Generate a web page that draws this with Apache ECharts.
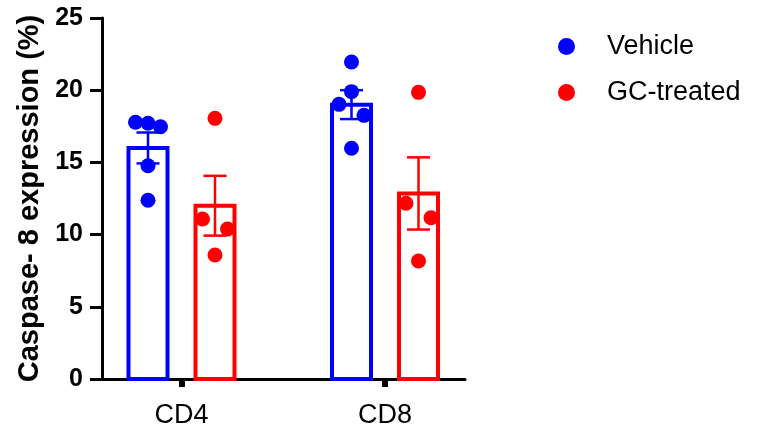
<!DOCTYPE html>
<html>
<head>
<meta charset="utf-8">
<script src="https://cdn.jsdelivr.net/npm/echarts@6/dist/echarts.min.js"></script>
<style>
html,body{margin:0;padding:0;background:#fff;}
#chart{width:760px;height:434px;}
</style>
</head>
<body>
<div id="chart"></div>
<script>
// ---- data ----
var categories = ['CD4', 'CD8'];
var groups = ['Vehicle', 'GC-treated'];
var vehicleMean = [16.0, 19.0];
var vehicleSem = [1.07, 1.0];
var gcMean = [12.0, 12.85];
var gcSem = [2.07, 2.5];
var vehiclePoints = [
  [17.78, 17.71, 17.47, 14.77, 12.38],
  [21.95, 19.9, 19.02, 18.26, 15.98]
];
var gcPoints = [
  [18.05, 11.08, 10.39, 8.59],
  [19.85, 12.17, 11.17, 8.17]
];
// horizontal jitter direction for each point (-1 left, 0 centre, 1 right)
var vehicleJitter = [
  [-1, 0, 1, 0, 0],
  [0, 0, -1, 1, 0]
];
var gcJitter = [
  [0, -1, 1, 0],
  [0, -1, 1, 0]
];
var yTicks = [0, 5, 10, 15, 20, 25];

// ---- layout helpers ----
var pxPerUnit = 203.5;
var groupOffset = 33.5 / pxPerUnit;
var jitterStep = 12.5 / pxPerUnit;
var BLUE = '#0000ff', RED = '#ff0000';
var FONT = 'Liberation Sans, Arial, sans-serif';

function barData(means, sems, side) {
  return means.map(function (m, i) {
    return [i + 1 + side * groupOffset, m, sems[i]];
  });
}
function pointData(points, jit, side) {
  var out = [];
  points.forEach(function (arr, i) {
    arr.forEach(function (v, j) {
      out.push([i + 1 + side * groupOffset + jit[i][j] * jitterStep, v]);
    });
  });
  return out;
}

function barRender(color) {
  return function (params, api) {
    var x = api.value(0), y = api.value(1);
    var top = api.coord([x, y]);
    var bot = api.coord([x, 0]);
    var w = 39;
    return {
      type: 'rect',
      shape: { x: top[0] - w / 2, y: top[1], width: w, height: bot[1] - top[1] },
      style: { fill: 'none', stroke: color, lineWidth: 4 }
    };
  };
}
function errRender(color) {
  return function (params, api) {
    var x = api.value(0), y = api.value(1), e = api.value(2);
    var hi = api.coord([x, y + e]);
    var lo = api.coord([x, y - e]);
    var cw = 11.5;
    return {
      type: 'group',
      children: [
        { type: 'line', shape: { x1: hi[0], y1: hi[1], x2: lo[0], y2: lo[1] }, style: { stroke: color, lineWidth: 2.5 } },
        { type: 'line', shape: { x1: hi[0] - cw, y1: hi[1], x2: hi[0] + cw, y2: hi[1] }, style: { stroke: color, lineWidth: 2.5 } },
        { type: 'line', shape: { x1: lo[0] - cw, y1: lo[1], x2: lo[0] + cw, y2: lo[1] }, style: { stroke: color, lineWidth: 2.5 } }
      ]
    };
  };
}

var chart = echarts.init(document.getElementById('chart'), null, { renderer: 'canvas' });
var xMin = 1 - 79.5 / pxPerUnit;
var xMax = xMin + 363 / pxPerUnit;

chart.setOption({
  animation: false,
  backgroundColor: '#fff',
  grid: { left: 102, top: 18, width: 363, height: 361 },
  legend: {
    orient: 'vertical',
    left: 553,
    top: 28,
    itemGap: 19,
    itemWidth: 17,
    itemHeight: 17,
    icon: 'circle',
    textStyle: { fontSize: 27, color: '#000', fontFamily: FONT, padding: [0, 0, 0, 27] },
    data: [
      { name: 'Vehicle', itemStyle: { color: BLUE } },
      { name: 'GC-treated', itemStyle: { color: RED } }
    ]
  },
  xAxis: {
    type: 'value',
    min: xMin,
    max: xMax,
    splitLine: { show: false },
    axisLine: { show: true, onZero: false, lineStyle: { color: '#000', width: 3 } },
    axisTick: { show: true, customValues: [1, 2], length: 8, lineStyle: { color: '#000', width: 6 } },
    axisLabel: {
      customValues: [1, 2],
      margin: 23,
      fontSize: 27,
      color: '#000',
      fontFamily: FONT,
      formatter: function (v) { return categories[Math.round(v) - 1] || ''; }
    }
  },
  yAxis: {
    type: 'value',
    min: 0,
    max: 25,
    interval: 5,
    name: 'Caspase- 8 expression (%)',
    nameLocation: 'middle',
    nameGap: 58,
    nameTextStyle: { fontSize: 29, fontWeight: 'bold', color: '#000', fontFamily: FONT },
    splitLine: { show: false },
    axisLine: { show: true, lineStyle: { color: '#000', width: 3 } },
    axisTick: { show: true, length: 12, lineStyle: { color: '#000', width: 3 } },
    axisLabel: {
      margin: 19,
      fontSize: 25,
      fontWeight: 'bold',
      color: '#000',
      fontFamily: FONT,
      formatter: function (v) { return yTicks.indexOf(v) >= 0 ? String(v) : ''; }
    }
  },
  series: [
    { name: 'Vehicle bars', type: 'custom', renderItem: barRender(BLUE), data: barData(vehicleMean, vehicleSem, -1), z: 2 },
    { name: 'GC bars', type: 'custom', renderItem: barRender(RED), data: barData(gcMean, gcSem, 1), z: 2 },
    { name: 'Vehicle err', type: 'custom', renderItem: errRender(BLUE), data: barData(vehicleMean, vehicleSem, -1), z: 3 },
    { name: 'GC err', type: 'custom', renderItem: errRender(RED), data: barData(gcMean, gcSem, 1), z: 3 },
    { name: 'Vehicle', type: 'scatter', symbol: 'circle', symbolSize: 15, itemStyle: { color: BLUE, opacity: 1 }, data: pointData(vehiclePoints, vehicleJitter, -1), z: 4 },
    { name: 'GC-treated', type: 'scatter', symbol: 'circle', symbolSize: 15, itemStyle: { color: RED, opacity: 1 }, data: pointData(gcPoints, gcJitter, 1), z: 4 }
  ]
});
</script>
</body>
</html>
